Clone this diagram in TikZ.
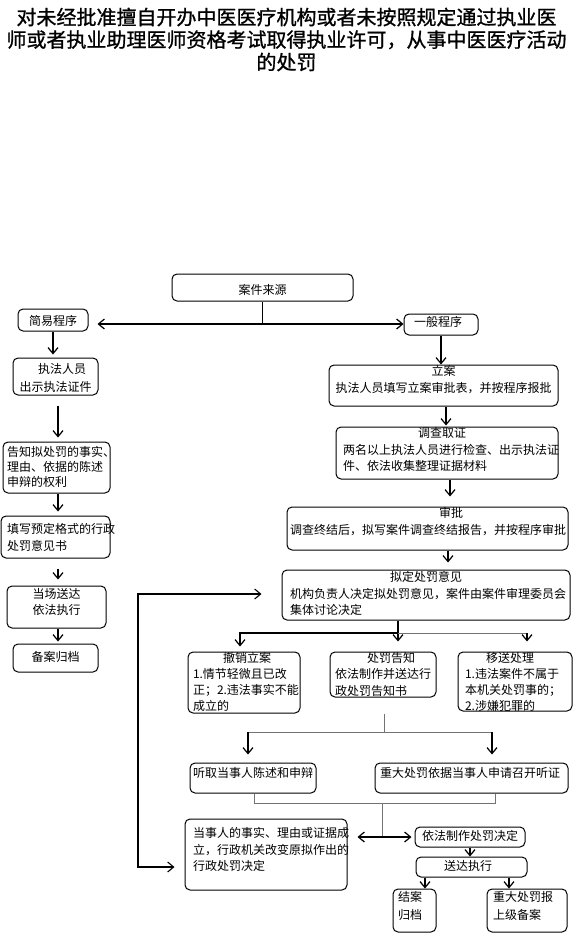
\documentclass[tikz,border=0pt]{standalone}
\usepackage{fontspec}
\usetikzlibrary{arrows.meta}
\newfontfamily\cjk{Noto Sans CJK SC}
\newfontfamily\titlefont[FakeBold=1]{Noto Sans CJK SC}
\newcommand\bx[6]{\hspace*{#3pt}\parbox[c][#2pt][t]{\dimexpr#1pt-#3pt-#3pt\relax}{\fontsize{12}{#5pt}\selectfont\raggedright\vspace*{#4pt}#6}\hspace*{#3pt}}
\newcommand\hdr[2]{\makebox[\linewidth]{\hspace*{#1pt}#2\hspace*{-#1pt}}\par}
\tikzset{
  box/.style={draw, rounded corners=5pt, line width=1pt, inner sep=0pt, font=\cjk},
  arr/.style={-{Straight Barb[length=6pt,width=10pt]}, line width=1.2pt},
  dblarr/.style={{Straight Barb[length=6pt,width=10pt]}-{Straight Barb[length=6pt,width=10pt]}, line width=1.1pt},
  ln/.style={line width=1.2pt},
  gln/.style={line width=0.8pt, draw=black!55},
}
\begin{document}
\begin{tikzpicture}[x=1pt,y=-1pt]
\fill[white] (0,0) rectangle (573,936);
\useasboundingbox (0,0) rectangle (573,936);

\node[font=\titlefont\fontsize{20}{22.5}\selectfont, align=center, inner sep=0pt] (title) at (286.5,39.5)
 {对未经批准擅自开办中医医疗机构或者未按照规定通过执业医\\师或者执业助理医师资格考试取得执业许可，从事中医医疗活动\\的处罚};

% main column
\node[box] (src) at (262.5,287.5) {\bx{181}{27}{0}{10.6}{16}{\hdr{0}{案件来源}}};
\node[box] (jy) at (53,320) {\bx{70}{22}{0}{6.6}{16}{\hdr{0}{简易程序}}};
\node[box] (yb) at (441,324.5) {\bx{74}{21}{0}{2.6}{16}{\hdr{-3}{一般程序}}};
\node[box] (lian) at (443.5,385.5) {\bx{229}{41}{2}{0.5}{17}{\hdr{0}{立案}\hdr{0}{执法人员填写立案审批表，并按程序报批}}};
\node[box] (dcqz) at (447,453) {\bx{222}{52}{7}{0.6}{16.5}{\hdr{-5}{调查取证}两名以上执法人员进行检查、出示执法证\\件、依法收集整理证据材料}};
\node[box] (sp) at (427.5,528.5) {\bx{281}{43}{3}{0.6}{17}{\hdr{23.5}{审批}调查终结后，拟写案件调查终结报告，并按程序审批}};
\node[box] (nd) at (426,595) {\bx{288}{50}{8}{1.6}{16.5}{\hdr{0}{拟定处罚意见}机构负责人决定拟处罚意见，案件由案件审理委员会\\集体讨论决定}};
\node[box] (cxla) at (244,682.5) {\bx{112}{61}{5}{0}{16}{\hdr{3}{撤销立案}1.情节轻微且已改\\正；2.违法事实不能\\成立的}};
\node[box] (cfgz) at (383,674.5) {\bx{106}{45}{5}{0}{16.5}{\hdr{8}{处罚告知}依法制作并送达行\\政处罚告知书}};
\node[box] (ys) at (515,681.5) {\bx{114}{59}{7}{0}{16}{\hdr{-5}{移送处理}1.违法案件不属于\\本机关处罚事的；\\2.涉嫌犯罪的}};
\node[box] (tq) at (253,778) {\bx{126}{30}{3}{4.6}{16}{听取当事人陈述和申辩}};
\node[box] (zd) at (471.5,778) {\bx{193}{30}{5}{4.6}{16}{重大处罚依据当事人申请召开听证}};
\node[box] (dsr) at (266,854.5) {\bx{162}{71}{8}{8.6}{16.5}{当事人的事实、理由或证据成\\立，行政机关改变原拟作出的\\行政处罚决定}};
\node[box] (yfzz) at (470,837) {\bx{110}{20}{0}{3.6}{16}{\hdr{0}{依法制作处罚决定}}};
\node[box] (sdzx) at (471.5,867) {\bx{111}{20}{0}{3.6}{16}{\hdr{-3.5}{送达执行}}};
\node[box] (ja) at (414.5,910.5) {\bx{43}{43}{0}{2.6}{18}{\hdr{-4.5}{结案}\hdr{-4.5}{归档}}};
\node[box] (zdb) at (527,910.5) {\bx{80}{43}{6}{2.6}{18}{重大处罚报\\上级备案}};

% left column
\node[box] (zfry) at (55.5,376.5) {\bx{85}{37}{0}{5.6}{18}{\hdr{6.5}{执法人员}\hdr{0}{出示执法证件}}};
\node[box] (gz) at (56.5,467.5) {\bx{107}{51}{4}{4.6}{15}{告知拟处罚的事实、\\理由、依据的陈述\\申辩的权利}};
\node[box] (tx) at (55.5,537) {\bx{109}{42}{6}{7.6}{17}{填写预定格式的行政\\处罚意见书}};
\node[box] (dc) at (56.5,607) {\bx{99}{42}{0}{2.6}{16}{\hdr{0}{当场送达}\hdr{0}{依法执行}}};
\node[box] (ba) at (55.5,658) {\bx{85}{28}{0}{7.6}{16}{\hdr{0}{备案归档}}};

% coordinates
\coordinate (c0) at (263,324);
\coordinate (xa) at (446,0);
\coordinate (xb) at (450,0);
\coordinate (xc) at (448,0);
\coordinate (f1) at (398,633);
\coordinate (f1l) at (240,633);
\coordinate (f1r) at (527,633);
\coordinate (f2) at (384,732);
\coordinate (f2l) at (248,732);
\coordinate (f2r) at (492,732);
\coordinate (f3) at (382,803);
\coordinate (f3l) at (254,803);
\coordinate (f3r) at (495,803);
\coordinate (f3b) at (382,837);
\coordinate (k3) at (425,880);
\coordinate (k4) at (509,880);
\coordinate (lx) at (58,0);
\coordinate (p1) at (138,594);
\coordinate (p2) at (138,867);

% connectors main
\draw[ln] (src.south) -- (src.south |- c0);
\draw[arr, shorten >=9pt] (c0) -- (c0 -| jy.east);
\draw[arr] (c0) -- (c0 -| yb.west);
\draw[arr] (yb.south) -- (yb.south |- lian.north);
\draw[arr, shorten >=1pt] (lian.south -| xa) -- (dcqz.north -| xa);
\draw[arr, shorten >=10pt] (dcqz.south -| xb) -- (sp.north -| xb);
\draw[arr, shorten >=7pt] (sp.south -| xc) -- (nd.north -| xc);

\draw[arr, shorten >=10pt] (nd.south -| f1) -- (cfgz.north -| f1);
\draw[arr, shorten >=5pt] (f1) -- (f1l) -- (f1l |- cxla.north);
\draw[gln] (f1) -- (f1r);
\draw[arr, shorten >=10pt] (f1r) -- (f1r |- ys.north);

\draw[gln, shorten <=16pt] (cfgz.south -| f2) -- (f2);
\draw[gln] (f2l) -- (f2r);
\draw[arr, shorten >=8pt] (f2l) -- (f2l |- tq.north);
\draw[arr, shorten >=8pt] (f2r) -- (f2r |- zd.north);

\draw[gln] (tq.south -| f3l) -- (f3l) -- (f3r) -- (zd.south -| f3r);
\draw[gln] (f3) -- (f3b);
\draw[arr, shorten >=10pt] (f3b) -- (f3b -| dsr.east);
\draw[arr, shorten >=3pt] (f3b) -- (f3b -| yfzz.west);

\draw[arr] (yfzz.south) -- (yfzz.south |- sdzx.north);
\draw[arr] (sdzx.south -| k3) -- (ja.north -| k3);
\draw[arr] (sdzx.south -| k4) -- (zdb.north -| k4);

% left column connectors
\draw[arr, shorten >=3pt] (jy.south) -- (jy.south |- zfry.north);
\draw[arr, shorten <=10pt, shorten >=4pt] (zfry.south -| lx) -- (gz.north -| lx);
\draw[arr, shorten >=4pt] (gz.south -| lx) -- (tx.north -| lx);
\draw[arr, shorten <=10pt, shorten >=6pt] (tx.south -| lx) -- (dc.north -| lx);
\draw[arr, shorten >=2pt] (dc.south -| lx) -- (ba.north -| lx);

% long loop line
\draw[dblarr, shorten <=20pt, shorten >=10pt] (p1 -| nd.west) -- (p1) -- (p2) -- (p2 -| dsr.west);
\end{tikzpicture}
\end{document}
